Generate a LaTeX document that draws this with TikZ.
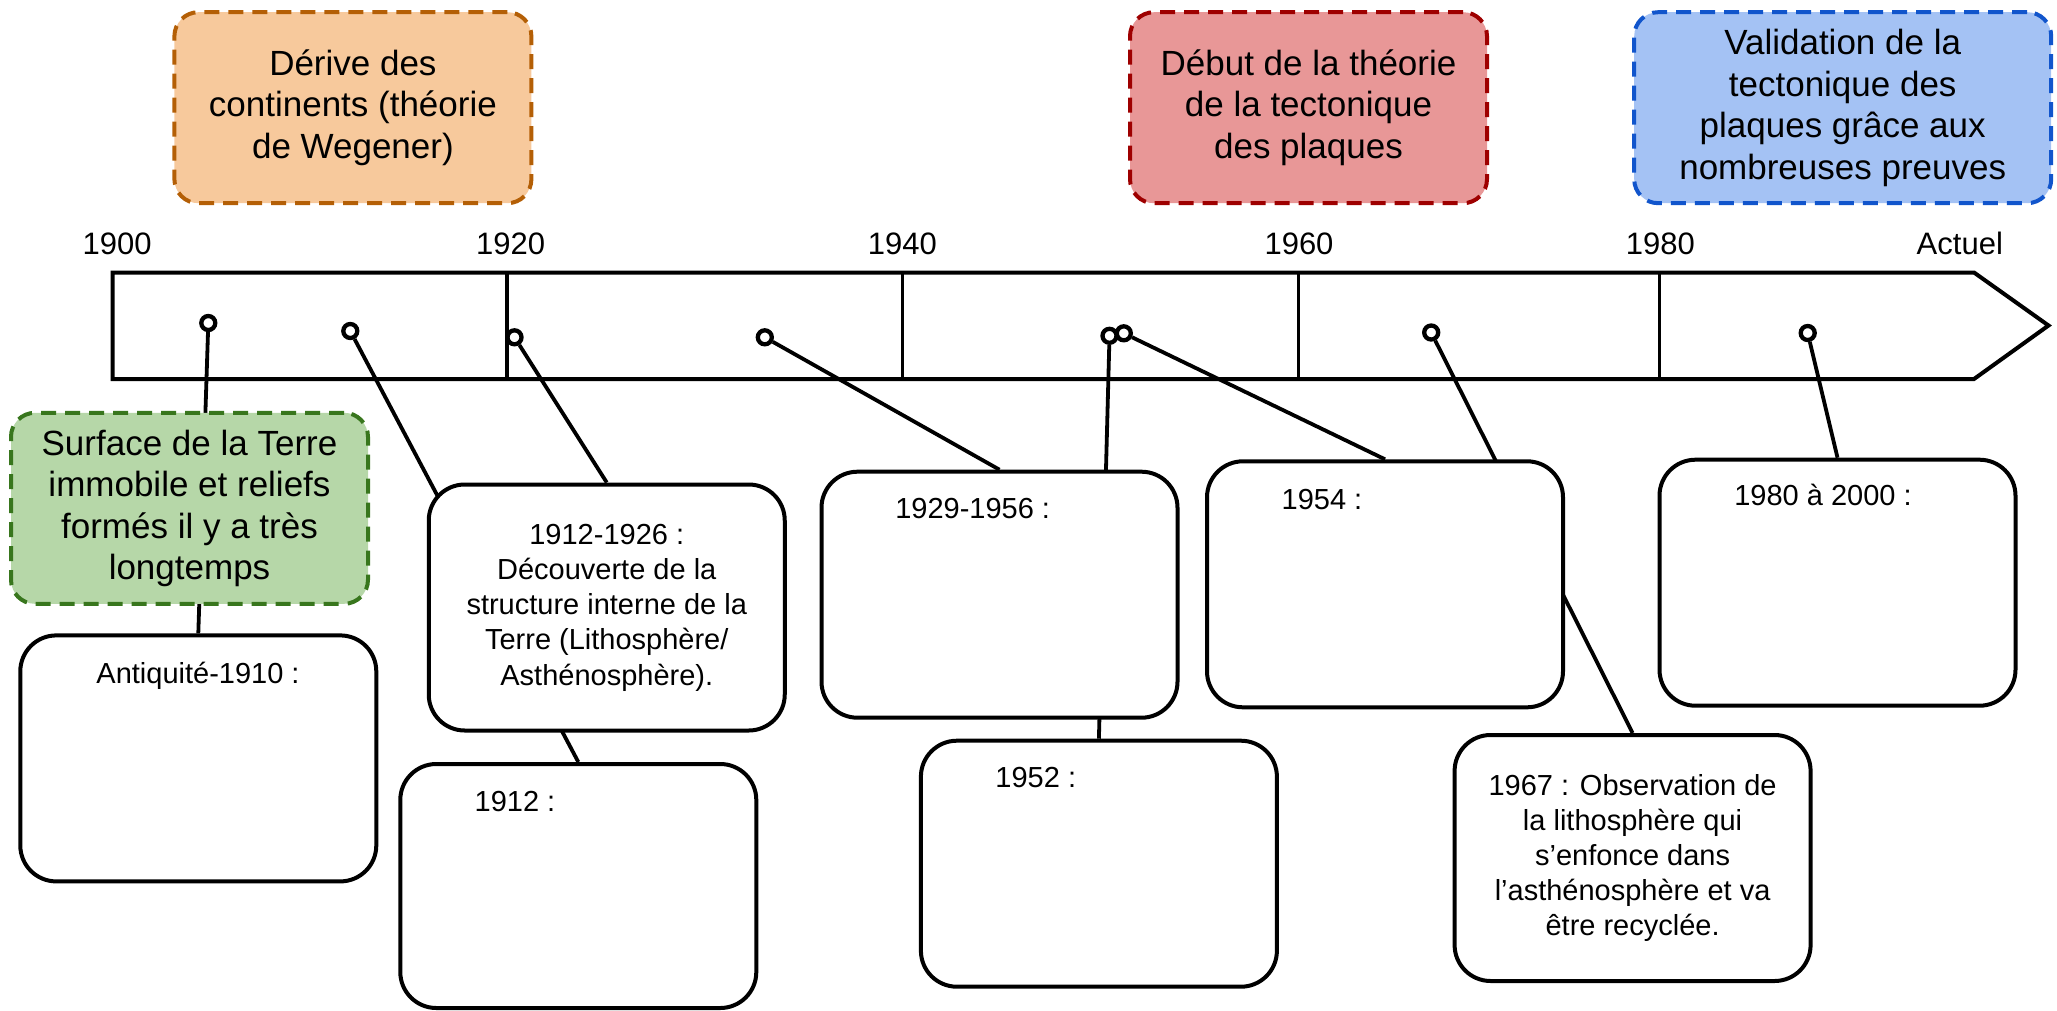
\documentclass[tikz,border=0pt]{standalone}
\usepackage{fontspec}
\setmainfont{Liberation Sans}
\usetikzlibrary{backgrounds}
\definecolor{orfill}{HTML}{F7C99C}
\definecolor{ordraw}{HTML}{B45F06}
\definecolor{rdfill}{HTML}{E89797}
\definecolor{rddraw}{HTML}{9E0000}
\definecolor{blfill}{HTML}{A4C2F4}
\definecolor{bldraw}{HTML}{1155CC}
\definecolor{grfill}{HTML}{B6D7A8}
\definecolor{grdraw}{HTML}{38761D}
\newcommand\fbig{\fontsize{35}{41.5}\selectfont}
\newcommand\fsmall{\fontsize{29}{35.2}\selectfont}
\newcommand\fyear{\fontsize{31}{36}\selectfont}
\begin{document}
\begin{tikzpicture}[x=1pt,y=-1pt,
  tl/.style={line width=4pt,line join=miter},
  tickline/.style={line width=3.4pt},
  dot/.style={circle,draw,fill=white,line width=4.3pt,inner sep=0pt,minimum size=14pt},
  conn/.style={line width=3.8pt},
  wbox/.style={draw,fill=white,rounded corners=36pt,line width=4pt,minimum width=356pt,minimum height=246pt,inner sep=0pt,align=center,font=\fsmall},
  dbox/.style={rounded corners=24pt,line width=4pt,dash pattern=on 15pt off 9pt,minimum width=357pt,minimum height=191pt,inner sep=0pt,align=center,font=\fbig},
  lbl/.style={anchor=base,font=\fsmall,inner sep=0pt},
  yr/.style={anchor=base,font=\fyear,inner sep=0pt}]
\useasboundingbox (0,0) rectangle (2057,1010);

% timeline
\draw[tl] (112.5,272.5) -- (1974,272.5) -- (2048.5,325.5) -- (1974,379) -- (112.5,379) -- cycle;
\draw[tickline] (507,272.5) -- (507,379);
\draw[tickline] (902.6,272.5) -- (902.6,379);
\draw[tickline] (1298.3,272.5) -- (1298.3,379);
\draw[tickline] (1659.7,272.5) -- (1659.7,379);

% year labels
\node[yr] (y1900) at (117.2,254.5) {1900};
\node[yr] (y1920) at (510.7,254.5) {1920};
\node[yr] (y1940) at (902.4,254.5) {1940};
\node[yr] (y1960) at (1299,254.5) {1960};
\node[yr] (y1980) at (1660.4,254.5) {1980};
\node[yr] (yact) at (1959.8,254.5) {Actuel};

% top dashed boxes
\node[dbox,fill=orfill,draw=ordraw] (orange) at (352.9,107.7) {Dérive des\\continents (théorie\\de Wegener)};
\node[dbox,fill=rdfill,draw=rddraw] (red) at (1308.5,107.7) {Début de la théorie\\de la tectonique\\des plaques};
\node[dbox,fill=blfill,draw=bldraw,minimum width=417pt] (blue) at (1842.7,107.7) {Validation de la\\tectonique des\\plaques grâce aux\\nombreuses preuves};
\node[dbox,fill=grfill,draw=grdraw] (green) at (189.5,508.3) {Surface de la Terre\\immobile et reliefs\\formés il y a très\\longtemps};

% white boxes
\node[wbox] (anti) at (198.3,758.4) {};
\node[wbox,minimum height=244pt] (b1912) at (578.3,886) {};
\node[wbox] (b1926) at (606.75,607.5) {1912-1926 :\\Découverte de la\\structure interne de la\\Terre (Lithosphère/\\Asthénosphère).};
\node[wbox] (b1956) at (999.5,594.7) {};
\node[wbox] (b1952) at (1098.9,863.7) {};
\node[wbox] (b1954) at (1385,584.3) {};
\node[wbox] (b1967) at (1632.6,858) {1967 : Observation de\\la lithosphère qui\\s’enfonce dans\\l’asthénosphère et va\\être recyclée.};
\node[wbox] (b1980) at (1837.5,582.7) {};

% labels inside boxes
\node[lbl] (tanti) at (198,683) {Antiquité-1910 :};
\node[lbl] (t1912) at (515,811) {1912 :};
\node[lbl] (t1956) at (972.7,518) {1929-1956 :};
\node[lbl] (t1952) at (1035.8,787) {1952 :};
\node[lbl] (t1954) at (1322,509) {1954 :};
\node[lbl] (t1980) at (1823,505) {1980 à 2000 :};

% dots
\node[dot] (c1) at (208.3,323) {};
\node[dot] (c2) at (350.3,331) {};
\node[dot] (c3) at (514.5,337.3) {};
\node[dot] (c4) at (764.8,337.3) {};
\node[dot] (c5) at (1109.5,335.8) {};
\node[dot] (c6) at (1123.8,333.3) {};
\node[dot] (c7) at (1431.2,332.5) {};
\node[dot] (c8) at (1807.7,333) {};

% connectors
\begin{scope}[on background layer]
\draw[conn] (c1) -- (anti.north);
\draw[conn] (c2) -- (b1912.north);
\draw[conn] (c3) -- (b1926.north);
\draw[conn] (c4) -- (b1956.north);
\draw[conn] (c5) -- (b1952.north);
\draw[conn] (c6) -- (b1954.north);
\draw[conn] (c7) -- (b1967.north);
\draw[conn] (c8) -- (b1980.north);
\end{scope}
\end{tikzpicture}
\end{document}
